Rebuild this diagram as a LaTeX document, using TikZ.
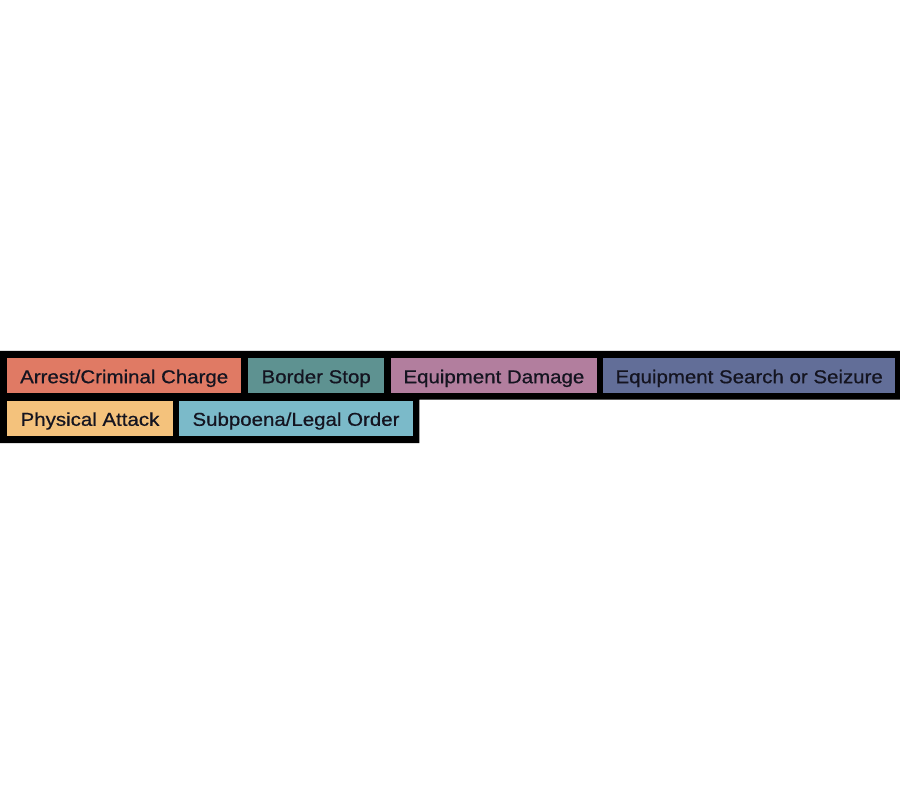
\documentclass[tikz,border=0pt]{standalone}
\usepackage{fontspec}
\setmainfont{Liberation Sans}[FakeStretch=1.1,FakeBold=0.6]
\definecolor{cArrest}{RGB}{224,122,100}
\definecolor{cBorder}{RGB}{94,146,145}
\definecolor{cDamage}{RGB}{178,126,158}
\definecolor{cSearch}{RGB}{98,110,152}
\definecolor{cAttack}{RGB}{244,194,124}
\definecolor{cSubp}{RGB}{123,186,201}
\definecolor{txt}{RGB}{20,20,32}
\tikzset{
  legbox/.style={fill=#1, draw=none, inner sep=0pt, text=txt,
    font=\fontsize{18.6}{20}\selectfont, minimum height=35.5pt,
    text height=15pt, text depth=0pt},
}
\begin{document}
\begin{tikzpicture}[x=1pt,y=-1pt]
\useasboundingbox (0,0) rectangle (900,794);
\fill[black] (0,351) -- (900,351) -- (900,399.5) -- (419.3,399.5) -- (419.3,443) -- (0,443) -- cycle;
\node[legbox=cArrest, minimum width=233.7pt] (arrest) at (124.2,375.7) {Arrest/Criminal Charge};
\node[legbox=cBorder, minimum width=135.7pt] (border) at (316.2,375.7) {Border Stop};
\node[legbox=cDamage, minimum width=205.7pt] (damage) at (493.9,375.7) {Equipment Damage};
\node[legbox=cSearch, minimum width=291.7pt] (search) at (749.2,375.7) {Equipment Search or Seizure};
\node[legbox=cAttack, minimum width=165.4pt] (attack) at (90,418.3) {Physical Attack};
\node[legbox=cSubp, minimum width=233.4pt] (subp) at (296,418.3) {Subpoena/Legal Order};
\end{tikzpicture}
\end{document}
